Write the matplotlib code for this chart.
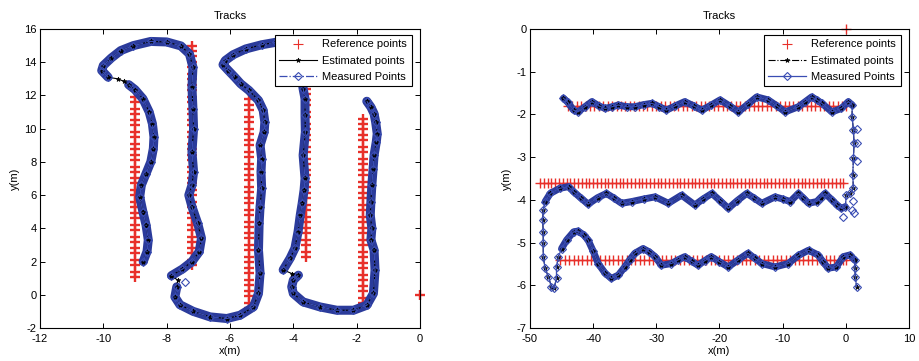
import numpy as np
import matplotlib
matplotlib.use("Agg")
import matplotlib.pyplot as plt

plt.rcParams['font.family'] = ['Liberation Sans', 'DejaVu Sans']
plt.rcParams['font.size'] = 8
plt.rcParams['axes.unicode_minus'] = False

# ---------------- left panel data ----------------
# reference points: vertical columns (x, list of y)
refL_cols_x = [-9.0, -7.2, -5.4, -3.6, -1.8, 0.0]
refL_cols_y = [
    [1.1, 1.4, 1.8, 2.1, 2.5, 2.8, 3.2, 3.5, 3.9, 4.2, 4.6, 4.9, 5.3, 5.6, 6.0, 6.3,
     6.7, 7.0, 7.4, 7.7, 8.1, 8.4, 8.8, 9.1, 9.5, 9.8, 10.2, 10.5, 10.9, 11.2, 11.6, 11.9],
    [1.8, 2.1, 2.5, 2.8, 3.2, 3.5, 3.9, 4.2, 4.6, 4.9, 5.3, 5.6, 6.0, 6.3, 6.7, 7.0,
     7.4, 7.7, 8.1, 8.4, 8.8, 9.1, 9.5, 9.8, 10.2, 10.5, 10.9, 11.2, 11.6, 11.9, 12.3,
     12.6, 13.0, 13.3, 13.7, 14.0, 14.4, 14.7, 15.0],
    [-0.8, -0.5, -0.1, 0.2, 0.6, 0.9, 1.3, 1.6, 2.0, 2.3, 2.7, 3.0, 3.4, 3.7, 4.1, 4.4,
     4.8, 5.1, 5.5, 5.8, 6.2, 6.5, 6.9, 7.2, 7.6, 7.9, 8.3, 8.6, 9.0, 9.3, 9.7, 10.0,
     10.4, 10.7, 11.1, 11.4, 11.8],
    [2.3, 2.6, 3.0, 3.3, 3.7, 4.0, 4.4, 4.7, 5.1, 5.4, 5.8, 6.1, 6.5, 6.8, 7.2, 7.5,
     7.9, 8.2, 8.6, 8.9, 9.3, 9.6, 10.0, 10.3, 10.7, 11.0, 11.4, 11.7, 12.1, 12.4, 12.8],
    [-0.5, -0.2, 0.2, 0.5, 0.9, 1.2, 1.6, 1.9, 2.3, 2.6, 3.0, 3.3, 3.7, 4.0, 4.4, 4.7,
     5.1, 5.4, 5.8, 6.1, 6.5, 6.8, 7.2, 7.5, 7.9, 8.2, 8.6, 8.9, 9.3, 9.6, 10.0, 10.3, 10.6],
    [0.0],
]

# track segments: (kind, x, y); 'band' = dense measured, 'gap' = only estimated
trkL = [
    ('band',
     [-8.74, -8.62, -8.58, -8.65, -8.75, -8.85, -8.8, -8.65, -8.5, -8.42, -8.4, -8.45,
      -8.55, -8.75, -9.0, -9.2],
     [2.0, 2.6, 3.3, 4.2, 5.0, 5.9, 6.6, 7.3, 8.0, 8.8, 9.5, 10.3, 11.0, 11.8, 12.35, 12.65]),
    ('gap', [-9.35, -9.55], [12.85, 13.0]),
    ('band',
     [-9.85, -10.05, -10.0, -9.75, -9.45, -9.05, -8.5, -8.0, -7.55, -7.28, -7.17, -7.2,
      -7.17, -7.15, -7.2, -7.15, -7.2, -7.3, -7.2, -7.02, -6.9, -6.97, -7.2, -7.5, -7.85],
     [13.1, 13.5, 13.8, 14.25, 14.7, 15.0, 15.25, 15.22, 14.98, 14.5, 13.7, 12.5,
      11.2, 10.0, 8.6, 7.4, 6.6, 6.0, 5.3, 4.3, 3.4, 2.6, 2.0, 1.55, 1.15]),
    ('gap', [-7.65], [0.88]),
    ('band',
     [-7.68, -7.74, -7.58, -7.16, -6.63, -6.1, -5.68, -5.26, -5.1, -5.05, -5.1, -5.08,
      -5.05, -5.0, -5.02, -5.0, -5.05, -4.92, -4.9, -4.95, -5.1, -5.4, -5.66, -5.85,
      -6.05, -6.22, -6.15, -5.9, -5.5, -5.0, -4.55, -4.1, -3.8, -3.69, -3.63, -3.63,
      -3.62, -3.69, -3.63, -3.66, -3.72, -3.78, -3.85, -3.95, -4.1, -4.32],
     [0.48, -0.13, -0.6, -1.0, -1.33, -1.43, -1.23, -0.73, 0.08, 1.3, 2.7, 4.3,
      5.3, 6.4, 7.4, 8.2, 9.0, 9.8, 10.4, 11.1, 11.7, 12.3, 12.7, 13.1,
      13.5, 13.85, 14.1, 14.45, 14.8, 15.05, 15.2, 15.0, 14.0, 12.4, 11.8, 10.8,
      9.8, 8.4, 7.0, 6.3, 5.5, 4.8, 3.8, 2.8, 2.2, 1.5]),
    ('gap', [-4.05], [1.28]),
    ('band',
     [-3.84, -4.0, -4.05, -4.0, -3.69, -3.16, -2.63, -2.1, -1.68, -1.47, -1.42, -1.45,
      -1.55, -1.52, -1.57, -1.55, -1.52, -1.48, -1.45, -1.38, -1.35, -1.4, -1.45, -1.55, -1.68],
     [1.18, 0.88, 0.48, 0.08, -0.43, -0.73, -0.93, -0.93, -0.63, 0.08, 1.48, 2.7,
      3.3, 4.0, 4.8, 5.6, 6.6, 7.6, 8.4, 9.2, 9.7, 10.4, 10.9, 11.3, 11.65]),
]
measL_extra_x = [-7.42]
measL_extra_y = [0.78]

# ---------------- right panel data ----------------
refR_rows_y = [-1.8, -3.6, -5.4, 0.0]
refR_rows_x = [
    [-44.0, -43.3, -42.6, -41.9, -41.2, -40.5, -39.8, -39.1, -38.4, -37.7, -37.0, -36.3,
     -35.6, -34.9, -34.2, -33.5, -32.8, -32.1, -31.4, -30.7, -30.0, -29.3, -28.6, -27.9,
     -27.2, -26.5, -25.8, -25.1, -24.4, -23.7, -23.0, -22.3, -21.6, -20.9, -20.2, -19.5,
     -18.8, -18.1, -17.4, -16.7, -16.0, -15.3, -14.6, -13.9, -13.2, -12.5, -11.8, -11.1,
     -10.4, -9.7, -9.0, -8.3, -7.6, -6.9, -6.2, -5.5, -4.8, -4.1, -3.4, -2.7, -2.0, -1.3,
     -0.6, 0.0],
    [-48.4, -47.8, -47.2, -46.6, -46.0, -45.4, -44.8, -44.2, -43.6, -43.0, -42.4, -41.8,
     -41.2, -40.6, -40.0, -39.4, -38.8, -38.2, -37.6, -37.0, -36.4, -35.8, -35.2, -34.6,
     -34.0, -33.4, -32.8, -32.2, -31.6, -31.0, -30.4, -29.8, -29.2, -28.6, -28.0, -27.4,
     -26.8, -26.2, -25.6, -25.0, -24.4, -23.8, -23.2, -22.6, -22.0, -21.4, -20.8, -20.2,
     -19.6, -19.0, -18.4, -17.8, -17.2, -16.6, -16.0, -15.4, -14.8, -14.2, -13.6, -13.0,
     -12.4, -11.8, -11.2, -10.6, -10.0, -9.4, -8.8, -8.2, -7.6, -7.0, -6.4, -5.8, -5.2,
     -4.6, -4.0, -3.4, -2.8, -2.2, -1.6, -1.0, -0.4],
    [-45.2, -44.5, -43.8, -43.1, -42.4, -41.7, -41.0, -40.3, -39.6, -38.9, -38.2, -37.5,
     -36.8, -36.1, -35.4, -34.7, -34.0, -33.3, -32.6, -31.9, -31.2, -30.5, -29.8, -29.1,
     -28.4, -27.7, -27.0, -26.3, -25.6, -24.9, -24.2, -23.5, -22.8, -22.1, -21.4, -20.7,
     -20.0, -19.3, -18.6, -17.9, -17.2, -16.5, -15.8, -15.1, -14.4, -13.7, -13.0, -12.3,
     -11.6, -10.9, -10.2, -9.5, -8.8, -8.1, -7.4, -6.7, -6.0, -5.3, -4.6, -3.9, -3.2,
     -2.5, -1.8, -1.1, -0.4, 0.0],
    [0.0],
]

# 'band' = dense measured, 'thin' = sparse measured
trkR = [
    ('band',
     [-44.7, -44.0, -43.1, -42.4, -41.3, -40.2, -39.1, -38.1, -37.0, -36.0, -34.7, -33.4,
      -32.0, -30.7, -29.5, -28.4, -27.0, -25.5, -24.1, -22.8, -21.3, -19.9, -18.4, -17.0,
      -15.5, -14.1, -12.3, -10.9, -9.6, -7.5, -6.4, -5.4, -4.6, -3.8, -2.2, -0.7, 0.4, 1.0],
     [-1.62, -1.72, -1.90, -1.94, -1.82, -1.70, -1.80, -1.86, -1.82, -1.78, -1.82, -1.82,
      -1.77, -1.74, -1.82, -1.90, -1.80, -1.70, -1.80, -1.90, -1.78, -1.66, -1.80, -1.94,
      -1.76, -1.59, -1.66, -1.80, -1.94, -1.82, -1.70, -1.59, -1.66, -1.74, -1.94, -1.86,
      -1.70, -1.78]),
    ('thin',
     [1.0, 1.2, 1.3, 1.2, 1.1, 1.2, 0.66, 0.1],
     [-2.05, -2.37, -2.68, -3.03, -3.42, -3.73, -3.85, -3.89]),
    ('band',
     [-0.1, -0.7, -1.4, -2.2, -3.3, -4.0, -4.6, -5.9, -6.7, -7.5, -8.8, -10.0, -11.2,
      -13.3, -14.5, -15.7, -17.2, -18.6, -19.9, -21.2, -22.6, -23.9, -26.0, -28.1, -30.2,
      -32.0, -33.9, -35.5, -36.7, -37.9, -39.3, -40.8, -42.0, -43.1, -43.9, -45.3, -46.8,
      -47.6],
     [-4.16, -4.20, -4.12, -4.00, -3.85, -3.95, -4.04, -4.08, -3.96, -3.85, -4.04, -3.98,
      -3.93, -4.08, -3.96, -3.85, -4.02, -4.20, -4.02, -3.85, -3.98, -4.12, -3.89, -4.08,
      -3.93, -3.98, -4.04, -4.08, -3.96, -3.85, -3.95, -4.10, -3.95, -3.81, -3.69, -3.73,
      -3.85, -4.04]),
    ('thin',
     [-47.9, -48.0, -47.9, -47.9, -47.9, -47.6, -47.1, -46.6, -46.2, -45.8, -45.8, -45.5],
     [-4.24, -4.47, -4.75, -5.02, -5.33, -5.60, -5.80, -6.03, -6.07, -5.84, -5.57, -5.33]),
    ('band',
     [-45.0, -44.2, -43.1, -42.4, -41.5, -40.8, -40.0, -39.2, -38.1, -37.1, -36.0, -35.0,
      -34.2, -33.4, -32.1, -31.1, -30.2, -29.2, -27.6, -26.5, -25.5, -24.4, -23.4, -22.3,
      -21.3, -20.0, -18.6, -17.0, -15.5, -14.4, -13.3, -11.2, -9.1, -7.5, -5.9, -4.4,
      -3.6, -2.8, -1.5, -0.4, 0.65, 1.4],
     [-5.14, -4.94, -4.75, -4.73, -4.82, -4.94, -5.20, -5.49, -5.72, -5.84, -5.76, -5.57,
      -5.40, -5.25, -5.14, -5.22, -5.33, -5.53, -5.49, -5.40, -5.33, -5.44, -5.53, -5.42,
      -5.33, -5.45, -5.57, -5.40, -5.25, -5.37, -5.49, -5.57, -5.49, -5.30, -5.18, -5.29,
      -5.45, -5.60, -5.57, -5.33, -5.29, -5.41]),
    ('thin', [1.45, 1.5, 1.7], [-5.60, -5.80, -6.03]),
]
measR_extra_x = [1.75, 1.8, 1.75, 0.9, -0.4, 1.3, 1.1]
measR_extra_y = [-2.33, -2.68, -3.10, -4.24, -4.40, -4.30, -4.02]

RED = '#e8302a'
BAND = '#2b3b9b'
BLUE = '#3a4db3'


def draw_panel(ax, ref_xs, ref_ys, trk, extra_x, extra_y, est_ls, meas_ls, band_w, ref_mew):
    rx = np.concatenate([np.asarray(x, float) for x in ref_xs])
    ry = np.concatenate([np.asarray(y, float) for y in ref_ys])
    ax.plot(rx, ry, '+', color=RED, ms=6.5, mew=ref_mew, clip_on=False,
            label='Reference points', zorder=2)

    # estimated = whole track
    ex = np.concatenate([s[1] for s in trk])
    ey = np.concatenate([s[2] for s in trk])

    # measured: break the line where only the estimate exists
    mx, my = [], []
    for kind, x, y in trk:
        if kind == 'gap':
            mx.append(np.nan)
            my.append(np.nan)
        else:
            mx.extend(x)
            my.extend(y)

    # thick band where measured samples are dense
    for kind, x, y in trk:
        if kind == 'band':
            ax.plot(x, y, '-', color=BAND, lw=band_w, solid_capstyle='round',
                    solid_joinstyle='round', zorder=3)

    ax.plot(ex, ey, est_ls, color='black', lw=0.8, marker='*', ms=3.5, mew=0.5,
            label='Estimated points', zorder=4)
    ax.plot(mx, my, meas_ls, color=BLUE, lw=0.9, marker='D', ms=4.5, mfc='none',
            mec=BLUE, mew=0.8, label='Measured Points', zorder=5)
    ax.plot(extra_x, extra_y, 'D', color=BLUE, ms=4.5, mfc='none', mew=0.8, zorder=5)

    ax.set_title('Tracks', fontsize=8, pad=7)
    ax.set_xlabel('x(m)', labelpad=1)
    ax.set_ylabel('y(m)', labelpad=3)
    ax.tick_params(direction='in', top=True, right=True, length=3.5, width=0.7,
                   labelsize=8, pad=2.5)
    ax.tick_params(axis='x', pad=4.5)
    for sp in ax.spines.values():
        sp.set_linewidth(0.8)
    leg = ax.legend(loc='upper right', bbox_to_anchor=(0.978, 0.98), fancybox=False,
                    edgecolor='black', framealpha=1, fontsize=8, handlelength=3.4,
                    borderaxespad=0, labelspacing=0.55, borderpad=0.4, handletextpad=0.5,
                    numpoints=1)
    leg.get_frame().set_linewidth(0.8)
    leg.legend_handles[0].set_markeredgewidth(0.8)
    leg.set_zorder(10)


fig = plt.figure(figsize=(9.19, 3.61), dpi=100)
axL = fig.add_axes([0.0435, 0.0914, 0.4135, 0.8283])
axR = fig.add_axes([0.5767, 0.0914, 0.4124, 0.8283])

draw_panel(axL, [np.full(len(y), x) for x, y in zip(refL_cols_x, refL_cols_y)], refL_cols_y,
           trkL, measL_extra_x, measL_extra_y, '-', '-.', 6.5, 1.7)
axL.set_xlim(-12, 0)
axL.set_ylim(-2, 16)
axL.set_xticks(range(-12, 1, 2))
axL.set_yticks(range(-2, 17, 2))

draw_panel(axR, refR_rows_x, [np.full(len(x), y) for y, x in zip(refR_rows_y, refR_rows_x)],
           trkR, measR_extra_x, measR_extra_y, '-.', '-', 5.0, 1.0)
axR.set_xlim(-50, 10)
axR.set_ylim(-7, 0)
axR.set_xticks(range(-50, 11, 10))
axR.set_yticks(range(-7, 1, 1))

fig.savefig('out.png', dpi=100)
